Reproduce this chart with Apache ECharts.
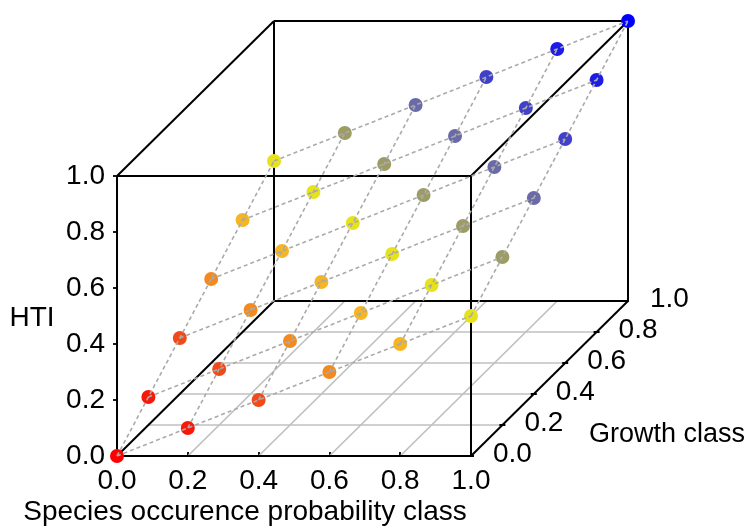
<!DOCTYPE html>
<html>
<head>
<meta charset="utf-8">
<script src="https://cdn.jsdelivr.net/npm/echarts@6/dist/echarts.min.js"></script>
<style>
html,body{margin:0;padding:0;background:#fff;}
#chart{width:748px;height:526px;}
</style>
</head>
<body>
<div id="chart"></div>
<script>
// ---- data ----
const occurrenceClass = [0.0, 0.2, 0.4, 0.6, 0.8, 1.0];   // x (front axis)
const growthClass     = [0.0, 0.2, 0.4, 0.6, 0.8, 1.0];   // y (depth axis)
// HTI values: one row per growth class, one column per occurrence class
const htiRows = [
  [0.0, 0.1, 0.2, 0.3, 0.4, 0.5],
  [0.1, 0.2, 0.3, 0.4, 0.5, 0.6],
  [0.2, 0.3, 0.4, 0.5, 0.6, 0.7],
  [0.3, 0.4, 0.5, 0.6, 0.7, 0.8],
  [0.4, 0.5, 0.6, 0.7, 0.8, 0.9],
  [0.5, 0.6, 0.7, 0.8, 0.9, 1.0]
];
const xTicks = [0.0, 0.2, 0.4, 0.6, 0.8, 1.0];
const zTicks = [0.0, 0.2, 0.4, 0.6, 0.8, 1.0];
const growthTicks = [0.0, 0.2, 0.4, 0.6, 0.8, 1.0];
const xName = 'Species occurence probability class';
const zName = 'HTI';
const growthName = 'Growth class';

// ---- oblique projection of the 3D box onto a 2D cartesian grid ----
const FRONT_W = 354, FRONT_H = 280, DEPTH_DX = 157, DEPTH_DY = 155;
const DU = DEPTH_DX / FRONT_W;   // u shift per unit of growth
const DV = DEPTH_DY / FRONT_H;   // v shift per unit of growth
function proj(x, y, z) { return [x + y * DU, z + y * DV]; }

const FS = 28;
const FAMILY = '"Liberation Sans", Arial, sans-serif';
const FONT = FS + 'px ' + FAMILY;

// points
const points = [];
growthClass.forEach((g, gi) => {
  occurrenceClass.forEach((o, oi) => {
    const h = htiRows[gi][oi];
    const p = proj(o, g, h);
    points.push([p[0], p[1], h]);
  });
});

// wireframe (dashed) through the points
const wire = [];
growthClass.forEach((g, gi) => {
  wire.push({coords: occurrenceClass.map((o, oi) => proj(o, g, htiRows[gi][oi]))});
});
occurrenceClass.forEach((o, oi) => {
  wire.push({coords: growthClass.map((g, gi) => proj(o, g, htiRows[gi][oi]))});
});

// floor grid (z = 0) at inner ticks
const floor = [];
growthTicks.slice(1, -1).forEach(g => floor.push({coords: [proj(0, g, 0), proj(1, g, 0)]}));
xTicks.slice(1, -1).forEach(x => floor.push({coords: [proj(x, 0, 0), proj(x, 1, 0)]}));

// box edges
const box = [];
const c = [0, 1];
c.forEach(a => c.forEach(b => {
  box.push({coords: [proj(0, a, b), proj(1, a, b)]});
  box.push({coords: [proj(a, 0, b), proj(a, 1, b)]});
  box.push({coords: [proj(a, b, 0), proj(a, b, 1)]});
}));

// growth axis ticks
const TICK_U = 3 / FRONT_W;
const growthTickLines = growthTicks.map(g => {
  const p = proj(1, g, 0);
  return {coords: [[p[0] - TICK_U, p[1]], [p[0] + TICK_U, p[1]]]};
});

const chart = echarts.init(document.getElementById('chart'));
chart.setOption({
  animation: false,
  backgroundColor: '#ffffff',
  grid: {left: 117, top: 456 - FRONT_H - DEPTH_DY, width: FRONT_W + DEPTH_DX, height: FRONT_H + DEPTH_DY},
  xAxis: {
    type: 'value', min: 0, max: 1 + DU,
    axisLine: {show: false}, splitLine: {show: false},
    axisTick: {show: true, inside: true, length: 4, customValues: xTicks, lineStyle: {color: '#000', width: 1.8}},
    axisLabel: {show: true, customValues: xTicks, margin: 11, color: '#000',
      fontSize: FS, fontFamily: FAMILY, formatter: v => v.toFixed(1)}
  },
  yAxis: {
    type: 'value', min: 0, max: 1 + DV,
    axisLine: {show: false}, splitLine: {show: false},
    axisTick: {show: true, inside: false, length: 4, customValues: zTicks, lineStyle: {color: '#000', width: 1.8}},
    axisLabel: {show: true, customValues: zTicks, margin: 12, color: '#000',
      fontSize: FS, fontFamily: FAMILY, formatter: v => v.toFixed(1)}
  },
  visualMap: {
    show: false, type: 'continuous', seriesIndex: 2, dimension: 2, min: 0, max: 1,
    inRange: {color: ['#ff0000', '#f81808', '#f04a1a', '#f48a1e', '#f6b522', '#e6e21c',
                      '#9c9c64', '#6a6aa8', '#4040c8', '#1c1ce6', '#0000ff']}
  },
  series: [
    {type: 'lines', coordinateSystem: 'cartesian2d', polyline: false, silent: true, z: 1,
      lineStyle: {color: '#c0c0c0', width: 1.7, opacity: 1}, data: floor},
    {type: 'lines', coordinateSystem: 'cartesian2d', polyline: false, silent: true, z: 2,
      lineStyle: {color: '#000', width: 2, opacity: 1}, data: box.concat(growthTickLines)},
    {type: 'scatter', symbol: 'circle', symbolSize: 14, z: 3, silent: true,
      itemStyle: {opacity: 1}, data: points},
    {type: 'lines', coordinateSystem: 'cartesian2d', polyline: true, silent: true, z: 4,
      lineStyle: {color: '#aaaaaa', width: 1.6, type: [4, 3], opacity: 1}, data: wire}
  ]
});

// growth-axis tick labels and axis titles (positions via the chart's own coordinate conversion)
const texts = growthTicks.map(g => {
  const px = chart.convertToPixel({gridIndex: 0}, proj(1, g, 0));
  return {type: 'text', x: px[0] + 22, y: px[1] - 2, z: 10,
    style: {text: g.toFixed(1), font: FONT, fill: '#000',
      align: 'left', verticalAlign: 'middle', textAlign: 'left', textVerticalAlign: 'middle'}};
});
texts.push(
  {type: 'text', x: 245, y: 512, style: {text: xName, font: FONT, fill: '#000',
    align: 'center', verticalAlign: 'middle', textAlign: 'center', textVerticalAlign: 'middle'}},
  {type: 'text', x: 32, y: 318, style: {text: zName, font: FONT, fill: '#000',
    align: 'center', verticalAlign: 'middle', textAlign: 'center', textVerticalAlign: 'middle'}},
  {type: 'text', x: 589, y: 435, style: {text: growthName, font: '27px ' + FAMILY, fill: '#000',
    align: 'left', verticalAlign: 'middle', textAlign: 'left', textVerticalAlign: 'middle'}}
);
chart.setOption({graphic: texts});
</script>
</body>
</html>
